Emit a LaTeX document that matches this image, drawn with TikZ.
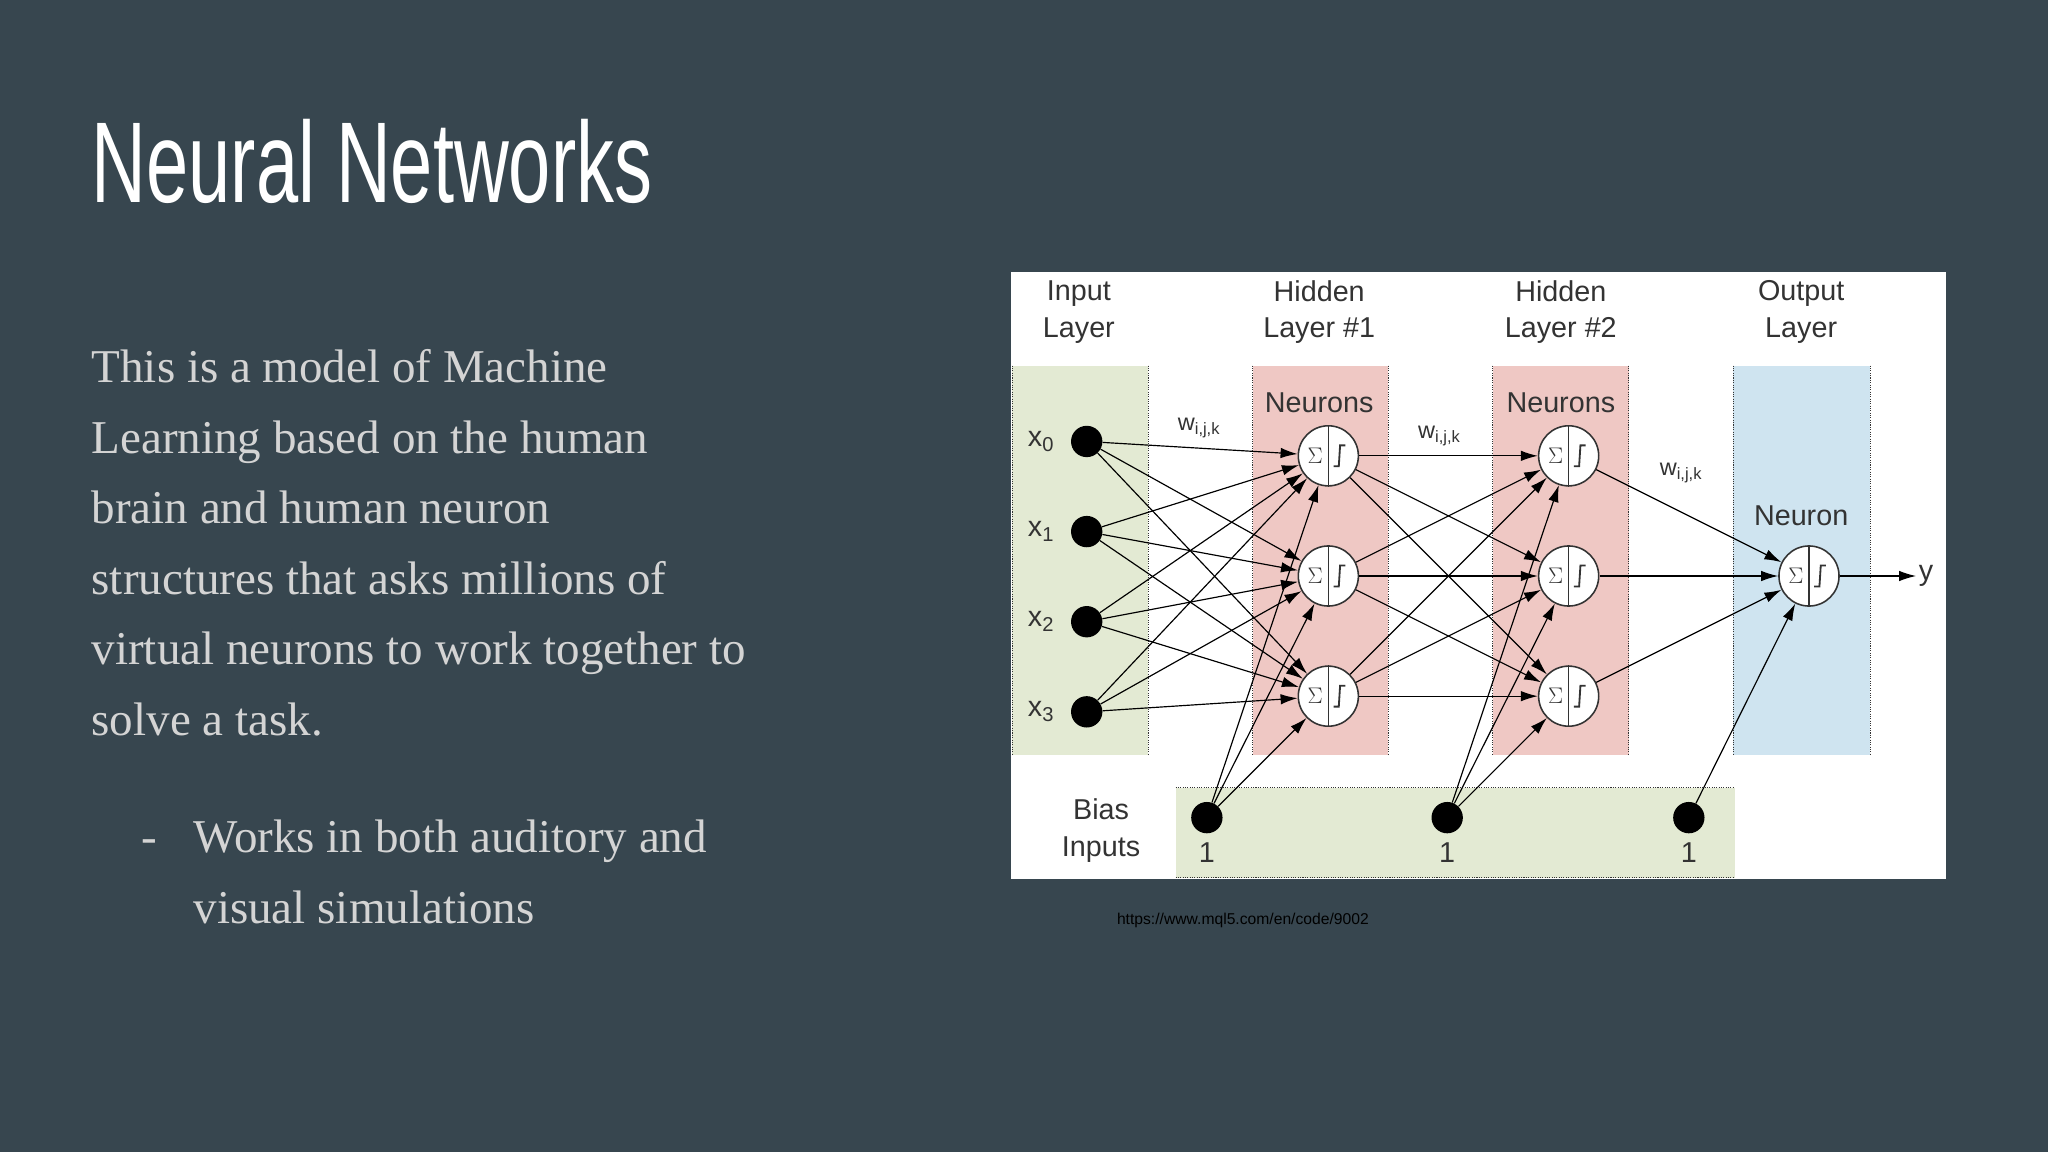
\documentclass[tikz,border=0pt]{standalone}
\usepackage{fontspec}
\setmainfont{Liberation Serif}
\newfontfamily\diagfont{Liberation Sans}
\usepackage{tikz}
\usetikzlibrary{arrows.meta}
\definecolor{Slate}{HTML}{37464F}
\definecolor{BodyGray}{HTML}{D4D4D4}
\definecolor{InGreen}{HTML}{E3EAD3}
\definecolor{HidPink}{HTML}{EFC8C4}
\definecolor{OutBlue}{HTML}{CFE4F0}
\definecolor{DiagText}{HTML}{333333}

\tikzset{
  band/.style={draw=DiagText,densely dotted,line width=0.8pt},
  lab/.style={font=\diagfont\fontsize{22}{28}\selectfont,text=DiagText,align=center},
  inp/.style={circle,fill=black,minimum size=24pt,inner sep=0pt},
  neuron/.style={circle,draw=DiagText,fill=white,line width=1.2pt,minimum size=46pt,inner sep=0pt},
  wire/.style={line width=0.9pt,-{Latex[length=13pt,width=8pt]}},
  body/.style={font=\fontsize{36}{54}\selectfont,text=BodyGray,anchor=base west}
}

\begin{document}
\begin{tikzpicture}[x=1pt,y=-1pt]
% Background
\fill[Slate] (0,0) rectangle (1568,882);
\useasboundingbox (0,0) rectangle (1568,882);
% Title
\node[anchor=base west,inner sep=0pt,text=white] (title) at (70,155)
  {\scalebox{0.66}[1]{\diagfont\fontsize{88}{90}\selectfont Neural Networks}};
% Body text
\node[body,inner sep=0pt] (l1) at (70,293) {This is a model of Machine};
\node[body,inner sep=0pt] (l2) at (70,347) {Learning based on the human};
\node[body,inner sep=0pt] (l3) at (70,401) {brain and human neuron};
\node[body,inner sep=0pt] (l4) at (70,455) {structures that asks millions of};
\node[body,inner sep=0pt] (l5) at (70,509) {virtual neurons to work together to};
\node[body,inner sep=0pt] (l6) at (70,563) {solve a task.};
\node[body,inner sep=0pt] (dash) at (108,653) {-};
\node[body,inner sep=0pt] (b1) at (148,653) {Works in both auditory and};
\node[body,inner sep=0pt] (b2) at (148,707) {visual simulations};
% Diagram panel
\fill[white] (774,208) rectangle (1490,673);
\fill[InGreen] (775,280) rectangle (879,578);
\fill[HidPink] (959,280) rectangle (1063,578);
\fill[HidPink] (1143,280) rectangle (1247,578);
\fill[OutBlue] (1327,280) rectangle (1432,578);
\fill[InGreen] (900,603) rectangle (1328,672);
\foreach \x in {775,879,959,1063,1143,1247,1327,1432}
  \draw[band] (\x,280) -- (\x,578);
\draw[band] (900,603) -- (1328,603);
\draw[band] (900,672) -- (1328,672);
% Layer labels
\node[lab] (tin) at (826,239) {Input\\Layer};
\node[lab] (th1) at (1010,239) {Hidden\\Layer \#1};
\node[lab] (th2) at (1195,239) {Hidden\\Layer \#2};
\node[lab] (tout) at (1379,239) {Output\\Layer};
\node[lab] (tn1) at (1010,308) {Neurons};
\node[lab] (tn2) at (1195,308) {Neurons};
\node[lab] (tn3) at (1379,395) {Neuron};
\node[lab] (tbias) at (843,636) {Bias\\Inputs};
% Input nodes
\foreach \i/\y in {0/338,1/407,2/476,3/545} {
  \node[inp] (x\i) at (832,\y) {};
  \node[lab] (lx\i) at (797,\y) {x\textsubscript{\i}};
}
% Neurons
\foreach \n/\x/\y in {ha/1017/349,hb/1017/441,hc/1017/533,ka/1201/349,kb/1201/441,kc/1201/533,out/1385/441}
  \node[neuron] (\n) at (\x,\y) {};
\foreach \n in {ha,hb,hc,ka,kb,kc,out} {
  \draw[DiagText,line width=1pt] (\n.north) -- (\n.south);
  \node[lab,font=\diagfont\fontsize{18}{20}\selectfont] at ([xshift=-10pt]\n.center) {$\Sigma$};
  \draw[DiagText,line width=1.4pt] ([xshift=4pt,yshift=-8pt]\n.center) -- ([xshift=8pt,yshift=-8pt]\n.center)
    -- ([xshift=9pt,yshift=8pt]\n.center) -- ([xshift=13pt,yshift=8pt]\n.center);
}
% Bias nodes
\foreach \b/\x in {ba/924,bb/1108,bc/1293} {
  \node[inp] (\b) at (\x,626) {};
  \node[lab] (l\b) at (\x,653) {1};
}
% Weights
\node[lab,font=\diagfont\fontsize{18}{20}\selectfont] (w1) at (918,328) {w\textsubscript{i,j,k}};
\node[lab,font=\diagfont\fontsize{18}{20}\selectfont] (w2) at (1102,334) {w\textsubscript{i,j,k}};
\node[lab,font=\diagfont\fontsize{18}{20}\selectfont] (w3) at (1287,362) {w\textsubscript{i,j,k}};
% Connections
\foreach \s in {x0,x1,x2,x3,ba}
  \foreach \t in {ha,hb,hc}
    \draw[wire] (\s) -- (\t);
\foreach \s in {ha,hb,hc,bb}
  \foreach \t in {ka,kb,kc}
    \draw[wire] (\s) -- (\t);
\foreach \s in {ka,kb,kc,bc}
  \draw[wire] (\s) -- (out);
\coordinate (yend) at (1467,441);
\draw[wire] (out) -- (yend);
\node[lab,anchor=west,inner sep=2pt] (ylab) at (yend) {y};
% Source
\node[anchor=west,inner sep=0pt,font=\diagfont\fontsize{12}{14}\selectfont,text=black] (src) at (855,705)
  {https://www.mql5.com/en/code/9002};
\end{tikzpicture}
\end{document}
